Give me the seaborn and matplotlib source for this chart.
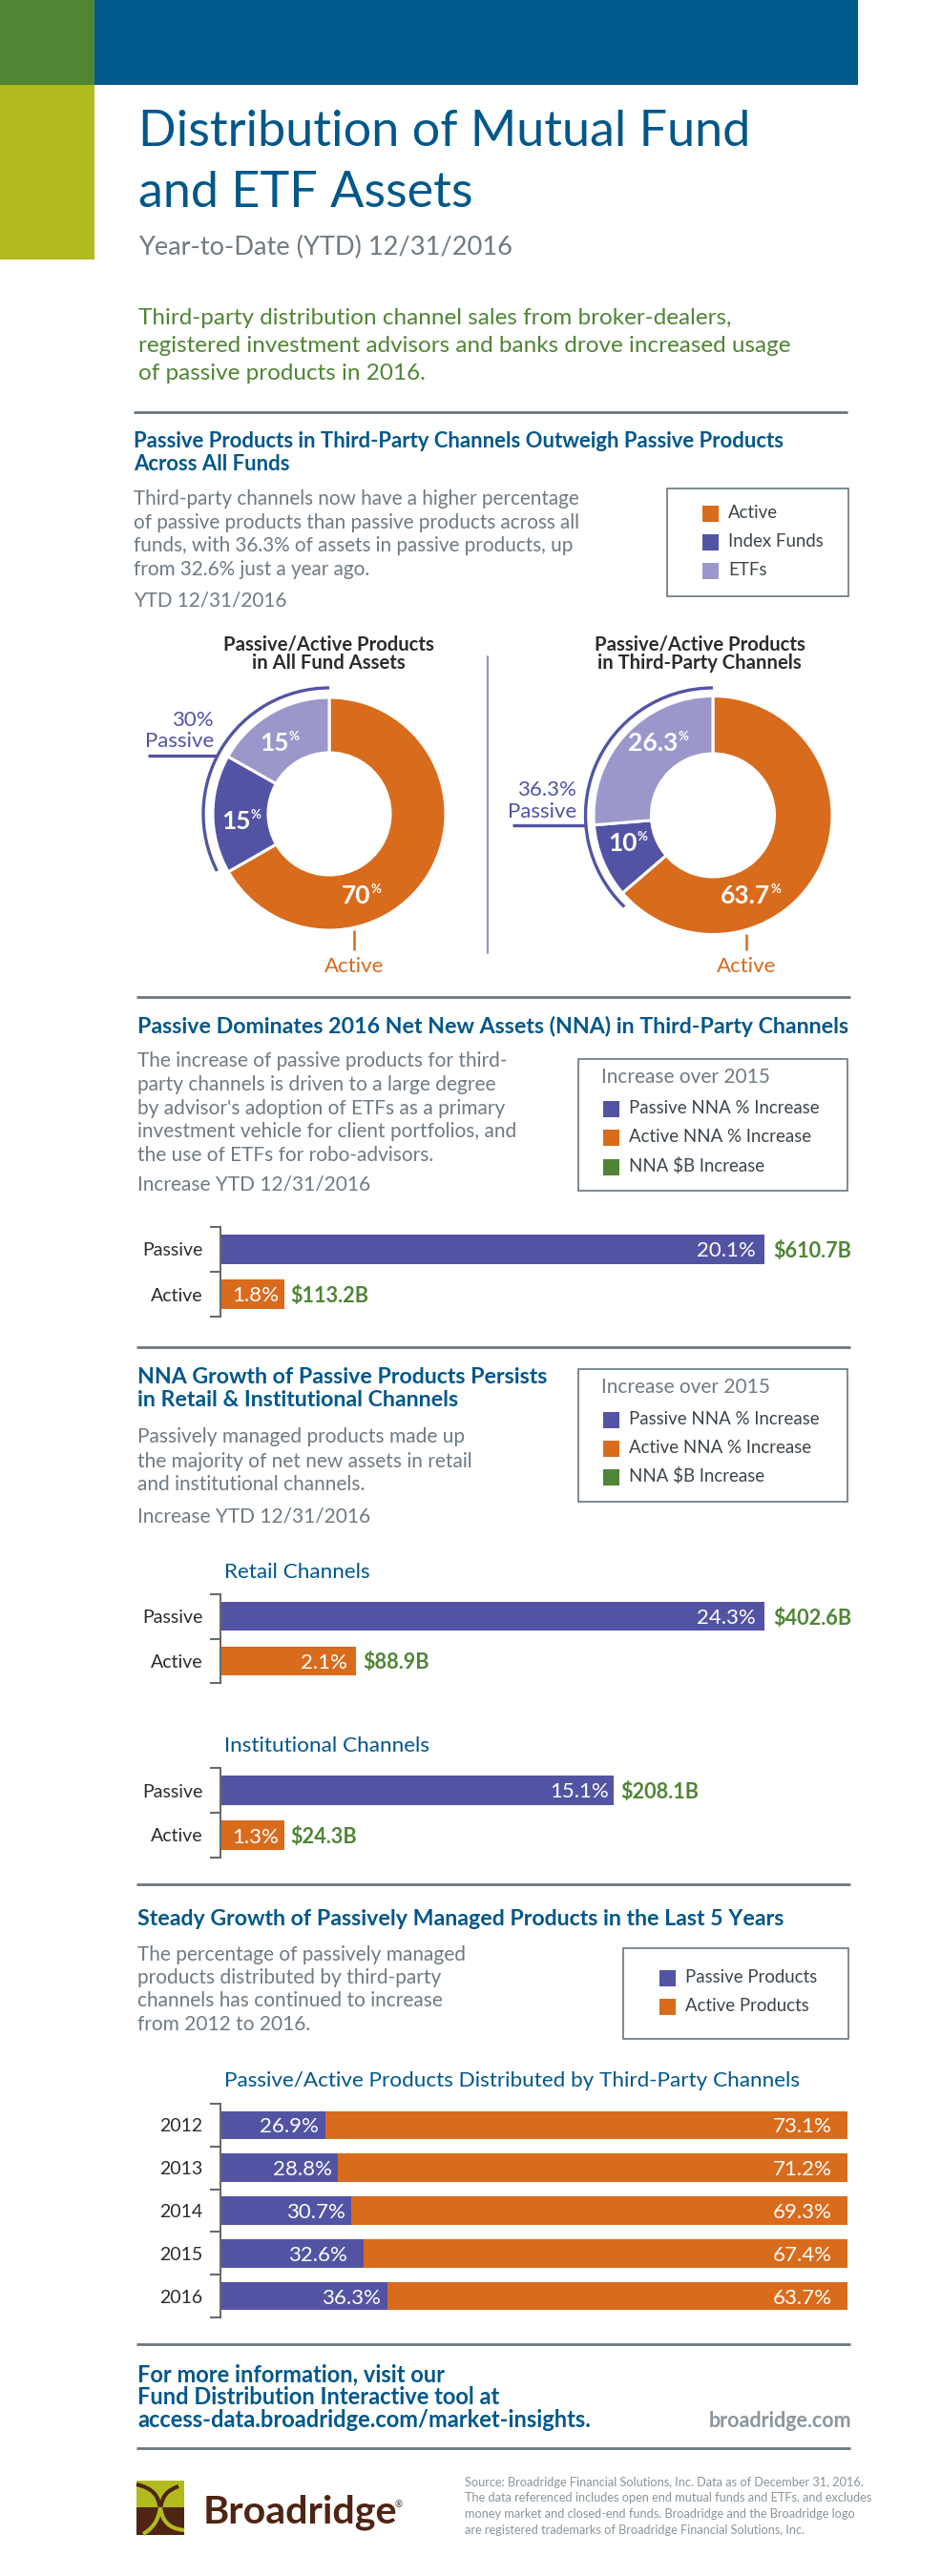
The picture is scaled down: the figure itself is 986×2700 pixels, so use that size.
import numpy as np
import pandas as pd
import matplotlib
matplotlib.use('Agg')
import matplotlib.pyplot as plt
import seaborn as sns
from matplotlib.patches import Arc, PathPatch, Rectangle
from matplotlib.path import Path

W, H = 987, 2700

# colours
BLUE = '#00578a'
GREEN = '#4f8534'
LIME = '#b2bb1e'
ORANGE = '#d96b1c'
INDEX = '#5254a3'
ETF = '#9c97cb'
GREY = '#6f7a82'
RULE = '#69767f'
INK = '#2b2b2b'
BROWN = '#4f2412'

# donuts: slice sizes as drawn. the left ring is drawn wider than its 70/15/15 labels
DONUT_NAMES = ['Active', 'Index Funds', 'ETFs']
all_funds_drawn = [66.7, 16.5, 16.8]
third_party_drawn = [63.7, 10.0, 26.3]
all_funds_labels = ['70', '15', '15']
third_party_labels = ['63.7', '10', '26.3']

# bars: lengths, as % of the widest bar. printed numbers kept apart
BAR_GROUPS = ['Passive', 'Active']
total_len = [100, 11.8]
total_pct = ['20.1%', '1.8%']
total_usd = ['$610.7B', '$113.2B']
retail_len = [100, 25.0]
retail_pct = ['24.3%', '2.1%']
retail_usd = ['$402.6B', '$88.9B']
inst_len = [72.3, 11.8]
inst_pct = ['15.1%', '1.3%']
inst_usd = ['$208.1B', '$24.3B']

YEARS = ['2012', '2013', '2014', '2015', '2016']
passive_drawn = [16.8, 18.7, 20.8, 22.8, 26.7]
active_drawn = [83.2, 81.3, 79.2, 77.2, 73.3]
passive_pct = ['26.9%', '28.8%', '30.7%', '32.6%', '36.3%']
active_pct = ['73.1%', '71.2%', '69.3%', '67.4%', '63.7%']

sns.set_theme(style='white')
plt.rcParams['font.family'] = ['Lato', 'DejaVu Sans']

fig = plt.figure(figsize=(W / 100, H / 100), dpi=100, facecolor='white')

# page layer in pixel coordinates, on top of the chart axes
page = fig.add_axes([0, 0, 1, 1], zorder=10)
page.set_xlim(0, W)
page.set_ylim(H, 0)
page.axis('off')
page.patch.set_alpha(0)


def px_axes(x0, y0, x1, y1):
    a = fig.add_axes([x0 / W, 1 - y1 / H, (x1 - x0) / W, (y1 - y0) / H])
    a.patch.set_alpha(0)
    return a


def put(x, y, s, size, color=GREY, weight='normal', ha='left'):
    return page.text(x, y, s, fontsize=size, color=color, fontweight=weight,
                     ha=ha, va='baseline', parse_math=False)


def lines(x, ys, rows, size, color=GREY, weight='normal'):
    for y, row in zip(ys, rows):
        put(x, y, row, size, color, weight)


def rule(y, x0=143, x1=891):
    page.plot([x0, x1], [y, y], color=RULE, lw=2.0, solid_capstyle='butt')


def box(x0, y0, x1, y1):
    page.add_patch(Rectangle((x0, y0), x1 - x0, y1 - y0, fc='none', ec=RULE, lw=1.2))


def legend_rows(x, ys, names, colors, size=13.4):
    for y, name, c in zip(ys, names, colors):
        page.add_patch(Rectangle((x, y - 13), 17, 17, fc=c, ec='none'))
        put(x + 27, y, name, size, '#3c444a')


def pct_label(x, y, number, size=19):
    t = put(x, y, number, size, 'white', 'bold')
    box_px = t.get_window_extent(fig.canvas.get_renderer())
    put(box_px.x1, y - 11, '%', size * 0.5, 'white', 'bold')


def donut(cx, cy, r, inner, values, arc_r, arc_end):
    side = r * 1.25
    a = px_axes(cx - side, cy - side, cx + side, cy + side)
    a.pie(values, startangle=90, counterclock=False, radius=1,
          colors=[ORANGE, INDEX, ETF],
          wedgeprops=dict(width=1 - inner / r, edgecolor='white', linewidth=2.2))
    a.add_patch(Arc((0, 0), 2 * arc_r / r, 2 * arc_r / r, theta1=90, theta2=arc_end,
                    color=INDEX, lw=2.4, clip_on=False))
    return a


def hbars(x0, y0, x1, y1, groups, frame, colors, width):
    # draws from a small frame, axis line runs the full height with ticks between groups
    a = px_axes(x0, y0, x1, y1)
    sns.barplot(data=frame, x='value', y='group', hue='group', palette=colors, legend=False,
                orient='h', width=width, saturation=1, linewidth=0, ax=a)
    finish_axis(a, groups)
    return a


def finish_axis(a, groups):
    n = len(groups)
    a.set_xlim(0, 100)
    a.set_ylim(n - 0.5, -0.5)
    a.set(xlabel='', ylabel='')
    a.set_xticks([])
    a.set_yticks(np.arange(n + 1) - 0.5)
    a.set_yticklabels([])
    a.set_yticks(np.arange(n), labels=groups, minor=True)
    a.tick_params(axis='y', which='major', left=True, length=8, width=1.5, color='#6a6a6a')
    a.tick_params(axis='y', which='minor', left=False, length=0, pad=13.5, labelsize=14,
                  labelcolor=INK)
    for name, sp in a.spines.items():
        sp.set_visible(name == 'left')
    a.spines['left'].set_color('#6a6a6a')
    a.spines['left'].set_linewidth(1.5)


def end_label(a, patch, text, color, offset, ha, size=16, weight='normal'):
    a.annotate(text, (patch.get_x() + patch.get_width(), patch.get_y() + patch.get_height() / 2),
               xytext=(offset, 0), textcoords='offset points', ha=ha, va='center_baseline',
               color=color, fontsize=size, fontweight=weight, parse_math=False)


def nna_chart(y0, y1, lengths, pct, usd, inset, gap, width=0.64):
    frame = pd.DataFrame({'group': BAR_GROUPS, 'value': lengths})
    a = hbars(231, y0, 231 + 570, y1, BAR_GROUPS, frame, [INDEX, ORANGE], width)
    for p, t, u, i, g in zip(a.patches, pct, usd, inset, gap):
        end_label(a, p, t, 'white', -i, 'right')
        end_label(a, p, u, GREEN, g, 'left', weight='bold', size=15.6)


# header blocks
page.add_patch(Rectangle((99, 0), 800, 89, fc='#005a8c', ec='none'))
page.add_patch(Rectangle((0, 0), 99, 89, fc=GREEN, ec='none'))
page.add_patch(Rectangle((0, 89), 99, 183, fc=LIME, ec='none'))

lines(145, [153, 217], ['Distribution of Mutual Fund', 'and ETF Assets'], 37.5, BLUE)
put(145, 267, 'Year-to-Date (YTD) 12/31/2016', 19.6, GREY)
lines(145, [340, 369, 398], [
    'Third-party distribution channel sales from broker-dealers,',
    'registered investment advisors and banks drove increased usage',
    'of passive products in 2016.'], 17.5, GREEN)

# section 1
rule(432, 140, 888)
lines(140, [469, 493], ['Passive Products in Third-Party Channels Outweigh Passive Products',
                        'Across All Funds'], 15.9, BLUE, 'bold')
lines(140, [529, 554, 578, 603, 635], [
    'Third-party channels now have a higher percentage',
    'of passive products than passive products across all',
    'funds, with 36.3% of assets in passive products, up',
    'from 32.6% just a year ago.',
    'YTD 12/31/2016'], 14.9)
box(699, 512, 889, 625)
legend_rows(736, [543, 573, 603], ['Active', 'Index Funds', 'ETFs'], [ORANGE, INDEX, ETF])

put(344, 681, 'Passive/Active Products', 14.6, INK, 'bold', 'center')
put(344, 701, 'in All Fund Assets', 14.6, INK, 'bold', 'center')
put(733, 681, 'Passive/Active Products', 14.6, INK, 'bold', 'center')
put(733, 701, 'in Third-Party Channels', 14.6, INK, 'bold', 'center')
page.plot([511, 511], [688, 999], color='#8c9bab', lw=1.5)

donut(345, 853, 122, 64, all_funds_drawn, 132, 207)
donut(747, 854.5, 125, 64.5, third_party_drawn, 133.5, 226)

put(224, 761, '30%', 16, INDEX, ha='right')
put(224, 783, 'Passive', 16, INDEX, ha='right')
page.plot([155, 228], [792, 792], color=INDEX, lw=2.4, solid_capstyle='butt')
put(604, 834, '36.3%', 16, INDEX, ha='right')
put(604, 857, 'Passive', 16, INDEX, ha='right')
page.plot([537, 614], [865, 865], color=INDEX, lw=2.4, solid_capstyle='butt')

fig.canvas.draw()
pct_label(272, 787, all_funds_labels[2])
pct_label(232, 869, all_funds_labels[1])
pct_label(358, 947, all_funds_labels[0])
pct_label(658, 787, third_party_labels[2])
pct_label(637, 892, third_party_labels[1])
pct_label(755, 947, third_party_labels[0])

for x, top in [(371, 975), (782, 979)]:
    page.plot([x, x], [top, 996], color=ORANGE, lw=1.8, solid_capstyle='butt')
    put(x, 1019, 'Active', 16, ORANGE, ha='center')

# section 2
rule(1045)
put(144, 1083, 'Passive Dominates 2016 Net New Assets (NNA) in Third-Party Channels', 16.7, BLUE, 'bold')
lines(144, [1118, 1143, 1168, 1192, 1217, 1248], [
    'The increase of passive products for third-',
    'party channels is driven to a large degree',
    "by advisor's adoption of ETFs as a primary",
    'investment vehicle for client portfolios, and',
    'the use of ETFs for robo-advisors.',
    'Increase YTD 12/31/2016'], 15)

NNA_KEYS = ['Passive NNA % Increase', 'Active NNA % Increase', 'NNA $B Increase']
box(606, 1110, 888, 1248)
put(630, 1135, 'Increase over 2015', 15)
legend_rows(632, [1167, 1197, 1228], NNA_KEYS, [INDEX, ORANGE, GREEN])

nna_chart(1286, 1380, total_len, total_pct, total_usd, [7, 4.5], [7, 4.6])

# section 3
rule(1412)
lines(144, [1450, 1474], ['NNA Growth of Passive Products Persists',
                          'in Retail & Institutional Channels'], 16.7, BLUE, 'bold')
lines(144, [1512.5, 1537.5, 1562.5, 1595], [
    'Passively managed products made up',
    'the majority of net new assets in retail',
    'and institutional channels.',
    'Increase YTD 12/31/2016'], 15)
box(606, 1435, 888, 1574)
put(630, 1460, 'Increase over 2015', 15)
legend_rows(632, [1493, 1523, 1553], NNA_KEYS, [INDEX, ORANGE, GREEN])

put(235, 1654, 'Retail Channels', 16.2, BLUE)
nna_chart(1671, 1764, retail_len, retail_pct, retail_usd, [7, 7], [7, 4.6])
put(235, 1836, 'Institutional Channels', 16.2, BLUE)
nna_chart(1853, 1947, inst_len, inst_pct, inst_usd, [3.8, 4.5], [5, 4.6])

# section 4
rule(1975)
put(144, 2018, 'Steady Growth of Passively Managed Products in the Last 5 Years', 16.7, BLUE, 'bold')
lines(144, [2055, 2079, 2103, 2128], [
    'The percentage of passively managed',
    'products distributed by third-party',
    'channels has continued to increase',
    'from 2012 to 2016.'], 15)
box(653, 2042, 889, 2137)
legend_rows(691, [2078, 2108], ['Passive Products', 'Active Products'], [INDEX, ORANGE])
put(235, 2187, 'Passive/Active Products Distributed by Third-Party Channels', 16.2, BLUE)

stack = pd.DataFrame({'year': YEARS, 'passive': passive_drawn, 'active': active_drawn})
stack['total'] = stack['passive'] + stack['active']
sa = px_axes(231, 2205, 888, 2429)
sns.barplot(data=stack, x='total', y='year', color=ORANGE, orient='h', width=0.66, saturation=1,
            linewidth=0, ax=sa)
n_back = len(sa.patches)
sns.barplot(data=stack, x='passive', y='year', color=INDEX, orient='h', width=0.66, saturation=1,
            linewidth=0, ax=sa)
finish_axis(sa, YEARS)
for p, t in zip(sa.patches[:n_back], active_pct):
    end_label(sa, p, t, 'white', -11.5, 'right')
for p, t, off in zip(sa.patches[n_back:], passive_pct, [-5.5, -4, -4.5, -12, -5.5]):
    end_label(sa, p, t, 'white', off, 'right')

# footer
rule(2457)
lines(144, [2496, 2520, 2544], ['For more information, visit our',
                                'Fund Distribution Interactive tool at',
                                'access-data.broadridge.com/market-insights.'], 17, BLUE, 'bold')
put(892, 2544, 'broadridge.com', 15.5, '#8c969e', 'bold', 'right')
rule(2566)

# logo
page.add_patch(Rectangle((143, 2600), 50, 28, fc=LIME, ec='none'))
page.add_patch(Rectangle((143, 2628), 50, 29, fc=BROWN, ec='none'))
for verts, col in [
    ([(168, 2630), (166, 2615), (160, 2608), (143, 2604)], BROWN),
    ([(168, 2630), (170, 2615), (176, 2610), (187, 2606)], BROWN),
    ([(168, 2628), (166, 2642), (160, 2650), (150, 2656)], LIME),
    ([(168, 2628), (170, 2642), (176, 2650), (193, 2652)], LIME),
]:
    page.add_patch(PathPatch(Path(verts, [Path.MOVETO, Path.CURVE4, Path.CURVE4, Path.CURVE4]),
                             fc='none', ec=col, lw=3))
put(213, 2644, 'Broadridge', 29.7, BROWN, 'bold')
put(414, 2628, '®', 7, BROWN)

lines(487, [2606, 2622, 2639, 2656], [
    'Source: Broadridge Financial Solutions, Inc. Data as of December 31, 2016.',
    'The data referenced includes open end mutual funds and ETFs, and excludes',
    'money market and closed-end funds. Broadridge and the Broadridge logo',
    'are registered trademarks of Broadridge Financial Solutions, Inc.'], 9.2, '#8a949b')

fig.savefig('out.png', dpi=100, facecolor='white')
